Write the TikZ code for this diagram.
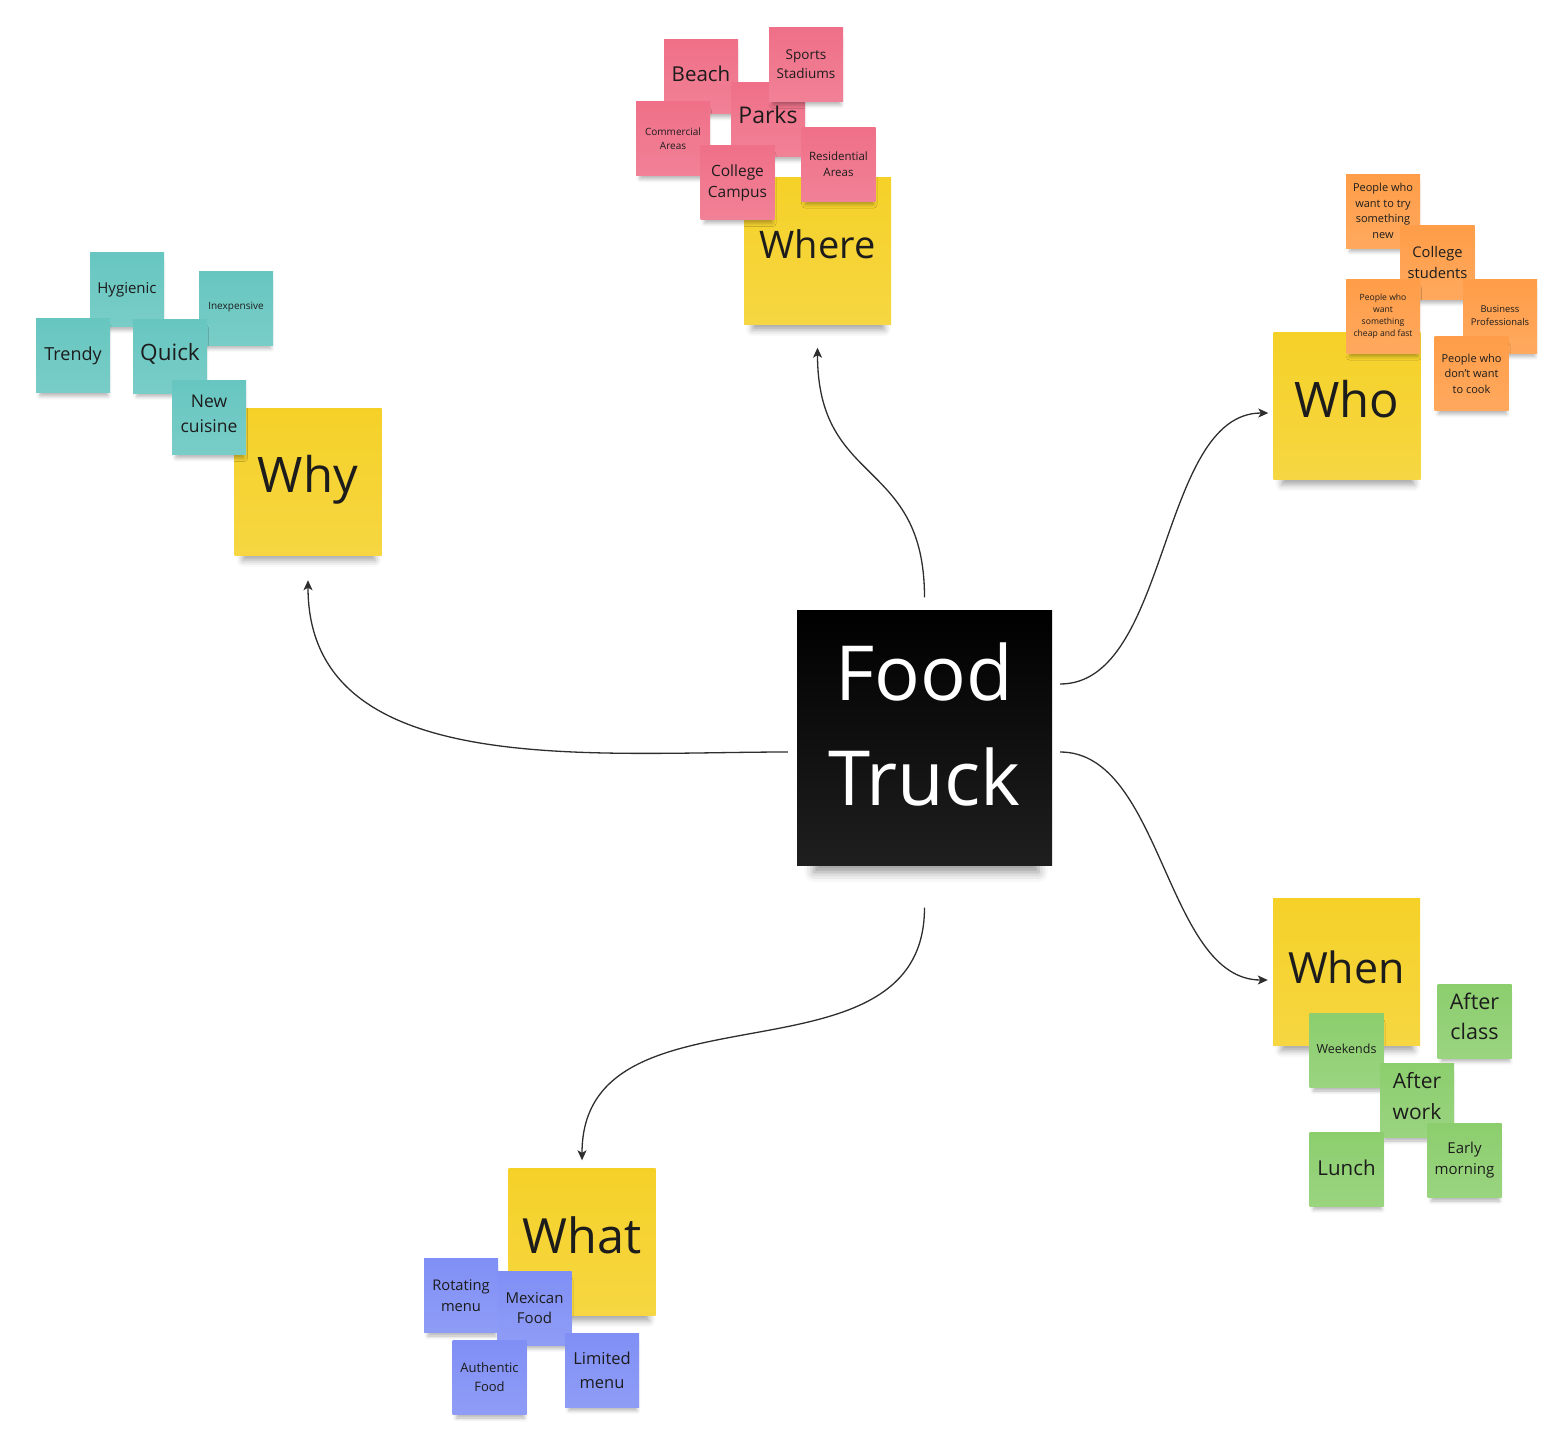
\documentclass[tikz,border=0pt]{standalone}
\usepackage{fontspec}
\setmainfont{Open Sans}
\usetikzlibrary{arrows.meta}
\usetikzlibrary{shadows.blur}

\definecolor{notetext}{HTML}{1C1C1C}
\definecolor{linegray}{HTML}{2E2E2E}
\definecolor{yellownote}{HTML}{F5D128}
\definecolor{pinknote}{HTML}{EF7088}
\definecolor{orangenote}{HTML}{FF9D48}
\definecolor{tealnote}{HTML}{67C6C0}
\definecolor{greennote}{HTML}{8CCE6E}
\definecolor{bluenote}{HTML}{808FF5}

\tikzset{
    notebase/.style={rectangle, inner sep=0pt, align=center, text=notetext,
        top color=#1, bottom color=#1!88!white},
    note/.style={notebase=#1, minimum size=74pt,
        blur shadow={shadow xshift=1pt, shadow yshift=-7pt, shadow blur radius=4pt,
            shadow opacity=30, shadow scale=0.92}},
    note/.default=yellownote,
    bignote/.style={notebase=yellownote, minimum size=147pt, text height=22pt, text depth=0pt,
        blur shadow={shadow xshift=1pt, shadow yshift=-14pt, shadow blur radius=7pt,
            shadow opacity=36, shadow scale=0.9}},
    lift/.style={text height=#1, text depth=0pt},
    fs/.style 2 args={font=\fontsize{#1}{#2}\selectfont},
}

\begin{document}
\begin{tikzpicture}[x=1pt,y=1pt]
        \useasboundingbox (0,0) rectangle (1567,-1435);

        % centre
        \node[notebase=black, minimum size=255pt, text=white, fs={76}{105},
            text height=134pt, text depth=0pt,
            blur shadow={shadow xshift=2pt, shadow yshift=-25pt, shadow blur radius=11pt,
                shadow opacity=42, shadow scale=0.88}] (ft) at (924.5,-738) {Food\\Truck};

        % questions
        \node[bignote, lift=15pt, fs={38}{46}] (where) at (817.5,-251) {Where};
        \node[bignote, fs={49}{56}] (who) at (1347,-406) {Who};
        \node[bignote, fs={49}{56}] (why) at (308,-481.5) {Why};
        \node[bignote, fs={43}{50}] (when) at (1346.5,-972) {When};
        \node[bignote, fs={48.5}{54}] (what) at (582,-1242) {What};

        % where
        \begin{scope}[every node/.style={note=pinknote}]
            \node[lift=9pt, fs={20.5}{26}] (beach) at (701,-76.5) {Beach};
            \node[lift=7pt, fs={23}{28}] (parks) at (768,-119.5) {Parks};
            \node[fs={13.5}{19}] (sports) at (806,-64.5) {Sports\\Stadiums};
            \node[fs={10}{14}] (commercial) at (673,-138.5) {Commercial\\Areas};
            \node[fs={15.5}{21}] (campus) at (737.5,-182.5) {College\\Campus};
            \node[fs={11.5}{16}] (residential) at (838.5,-164) {Residential\\Areas};
        \end{scope}

        % who
        \begin{scope}[every node/.style={note=orangenote}]
            \node[fs={11}{15.5}] (trynew) at (1383,-211) {People who\\want to try\\something\\new};
            \node[fs={14.7}{21}] (students) at (1437.5,-262.5) {College\\students};
            \node[fs={8.6}{12}] (cheapfast) at (1383,-316) {People who\\want\\something\\cheap and fast};
            \node[fs={9.4}{13}] (business) at (1500,-316) {Business\\Professionals};
            \node[fs={11}{15.5}] (nocook) at (1471.5,-373.5) {People who\\don't want\\to cook};
        \end{scope}

        % why
        \begin{scope}[every node/.style={note=tealnote}]
            \node[lift=7pt, fs={15}{20}] (hygienic) at (127,-289.5) {Hygienic};
            \node[lift=2pt, fs={10}{14}] (inexpensive) at (236,-308) {Inexpensive};
            \node[lift=9pt, fs={18}{24}] (trendy) at (73,-355.5) {Trendy};
            \node[lift=8pt, fs={22.5}{28}] (quick) at (170,-356) {Quick};
            \node[lift=30pt, fs={17.5}{25}] (cuisine) at (209,-417.5) {New\\cuisine};
        \end{scope}

        % when
        \begin{scope}[every node/.style={note=greennote}]
            \node[lift=36pt, fs={21.5}{30}] (afterclass) at (1474.5,-1021) {After\\class};
            \node[lift=5pt, fs={12.5}{17}] (weekends) at (1346.5,-1050.5) {Weekends};
            \node[lift=37pt, fs={21}{31}] (afterwork) at (1417,-1100.5) {After\\work};
            \node[lift=12pt, fs={20.5}{26}] (lunch) at (1346.5,-1169) {Lunch};
            \node[fs={15}{21}] (early) at (1464.5,-1160.5) {Early\\morning};
        \end{scope}

        % what
        \begin{scope}[every node/.style={note=bluenote}]
            \node[fs={14.7}{21}] (rotating) at (461,-1295.5) {Rotating\\menu};
            \node[fs={15}{20}] (mexican) at (534.5,-1308) {Mexican\\Food};
            \node[fs={13}{19}] (authentic) at (489.5,-1377.5) {Authentic\\Food};
            \node[fs={16.5}{24}] (limited) at (602,-1370) {Limited\\menu};
        \end{scope}

        \begin{scope}[>={Stealth[length=10pt,width=9pt,inset=2.5pt]},
                every edge/.style={draw=linegray, line width=1.3pt}]
            \path [->] ([yshift=13pt]ft.north) edge[out=90, in=-90, looseness=1.32] ([yshift=-23pt]where.south);
            \path [->] ([xshift=8pt,yshift=54pt]ft.east) edge[out=0, in=180, looseness=0.82] ([xshift=-5pt,yshift=-7pt]who.west);
            \path [->] ([xshift=8pt,yshift=-14pt]ft.east) edge[out=0, in=180, looseness=0.85] ([xshift=-5pt,yshift=-8pt]when.west);
            \path [->] ([xshift=-9pt,yshift=-14pt]ft.west) edge[out=180, in=-90] ([yshift=-25pt]why.south);
            \path [->] ([yshift=-42pt]ft.south) edge[out=-90, in=90, looseness=1.12] ([yshift=8pt]what.north);
        \end{scope}
    \end{tikzpicture}
\end{document}
